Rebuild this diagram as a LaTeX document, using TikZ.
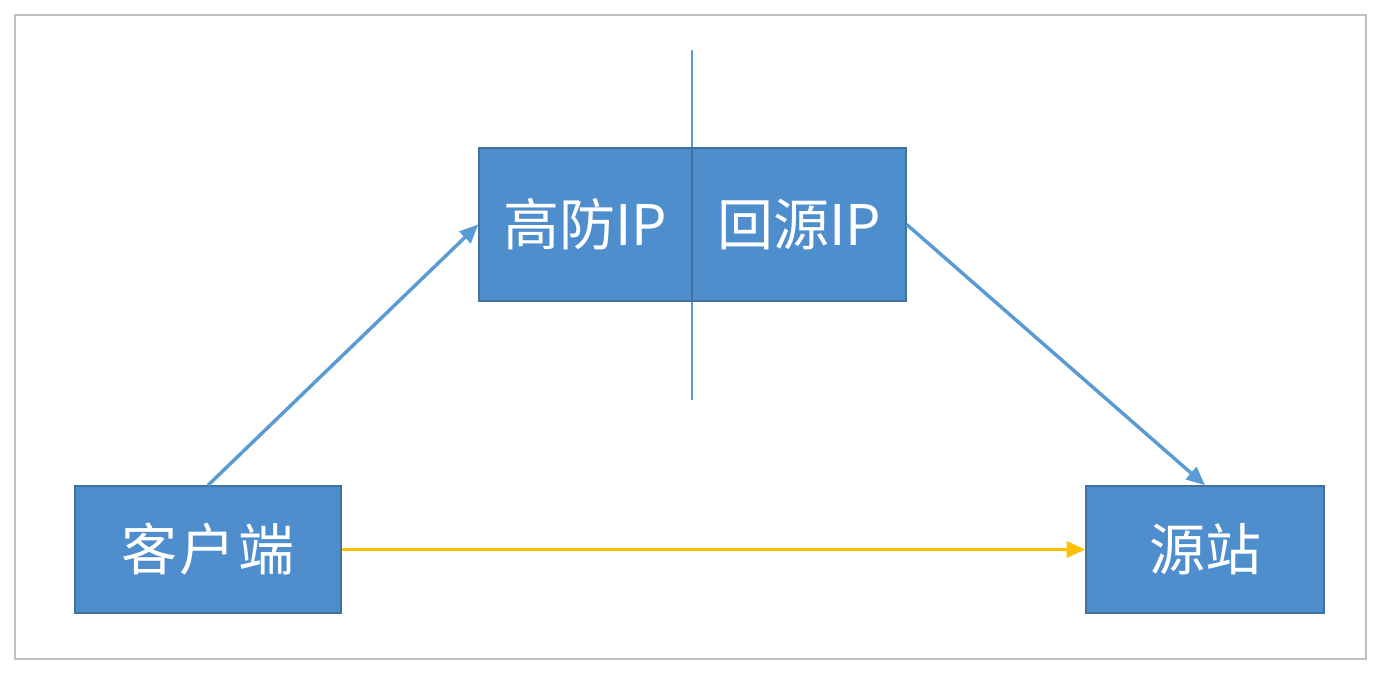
\documentclass[tikz,border=0pt]{standalone}
\usepackage{fontspec}
\setmainfont{Noto Sans CJK SC}
\usetikzlibrary{arrows.meta}
\definecolor{boxfill}{HTML}{4F8ECC}
\definecolor{boxline}{HTML}{41719C}
\definecolor{arrowblue}{HTML}{5B9BD5}
\definecolor{arrowyellow}{HTML}{FFC000}
\definecolor{frame}{HTML}{C0C0C0}
\begin{document}
\begin{tikzpicture}[x=0.75pt,y=-0.75pt,
  box/.style={draw=boxline,line width=1.1pt,fill=boxfill,text=white,inner sep=0pt,
    font=\fontsize{42}{48}\selectfont},
  conn/.style={line width=2.6pt,-{Triangle[length=14pt,width=12pt]}}]
\useasboundingbox (0,0) rectangle (1390,678);
\draw[frame,line width=1.5pt] (15,15) rectangle (1366,659);
\coordinate (vtop) at (692,50);
\coordinate (vbot) at (692,400);
\draw[arrowblue,line width=1.3pt] (vtop) -- (vbot);
\node[box,minimum width=159.75pt,minimum height=114.75pt] (gf) at (585.5,224.5) {高防IP};
\node[box,minimum width=160.5pt,minimum height=114.75pt] (hy) at (799,224.5) {回源IP};
\node[box,minimum width=199.5pt,minimum height=95.25pt] (client) at (208,549.5) {客\hspace{2pt}户\hspace{2pt}端};
\node[box,minimum width=178.5pt,minimum height=95.25pt] (origin) at (1205,549.5) {源站};
\draw[conn,arrowblue] (client.north) -- (gf.west);
\draw[conn,arrowblue] (hy.east) -- (origin.north);
\draw[conn,arrowyellow] (client.east) -- (origin.west);
\end{tikzpicture}
\end{document}
